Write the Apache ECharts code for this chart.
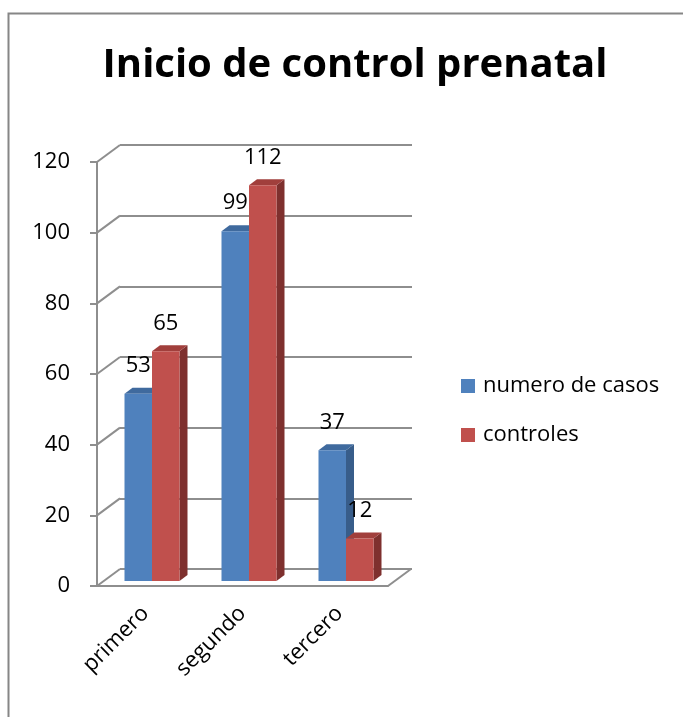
<!DOCTYPE html>
<html><head><meta charset="utf-8">
<script src="https://cdn.jsdelivr.net/npm/echarts@6/dist/echarts.min.js"></script>
<style>html,body{margin:0;padding:0;background:#fff}#c{width:683px;height:717px}</style>
</head><body><div id="c"></div>
<script>
// ---- data ----
const categories = ['primero', 'segundo', 'tercero'];
const seriesNames = ['numero de casos', 'controles'];
const casos = [53, 99, 37];
const controles = [65, 112, 12];
const yTickValues = [0, 20, 40, 60, 80, 100, 120];
const titleText = 'Inicio de control prenatal';

// ---- style constants ----
const FONT = 'Open Sans';
const GRID = '#8E8E8E';
const DX = 23, DY = -17;            // wall depth
const BAR_W = 27.5, BAR_OX = 6.5, BAR_OY = -5, BAR_DX = 8, BAR_DY = -6;
const faces = [
  {front: '#4F81BD', top: '#3F6A9E', side: '#385D8A'},
  {front: '#C0504D', top: '#A13F3C', side: '#7E302E'}
];

function barRender(si) {
  return function (params, api) {
    const i = api.value(0), v = api.value(1);
    const base = api.coord([i, 0]);
    const topP = api.coord([i, v]);
    const x0 = base[0] + BAR_OX - (si === 0 ? BAR_W : 0);
    const x1 = x0 + BAR_W;
    const yb = base[1] + BAR_OY;
    const yt = topP[1] + BAR_OY;
    const f = faces[si];
    return {type: 'group', children: [
      {type: 'polygon', shape: {points: [[x1, yt], [x1 + BAR_DX, yt + BAR_DY], [x1 + BAR_DX, yb + BAR_DY], [x1, yb]]}, style: {fill: f.side}},
      {type: 'polygon', shape: {points: [[x0, yt], [x0 + BAR_DX, yt + BAR_DY], [x1 + BAR_DX, yt + BAR_DY], [x1, yt]]}, style: {fill: f.top}},
      {type: 'rect', shape: {x: x0, y: yt, width: BAR_W, height: yb - yt}, style: {fill: f.front}},
      {type: 'text', x: (x0 + x1) / 2, y: yt - 28, style: {text: String(v), fill: '#000', font: '22px "' + FONT + '"', align: 'center', verticalAlign: 'middle'}}
    ]};
  };
}

const chart = echarts.init(document.getElementById('c'), null, {renderer: 'canvas'});
chart.setOption({
  animation: false,
  backgroundColor: '#fff',
  title: {text: titleText, left: 350, top: 41, textAlign: 'center',
    textStyle: {fontSize: 40, fontWeight: 'bold', fontFamily: FONT, color: '#000'}},
  legend: {orient: 'vertical', left: 456, top: 370, itemWidth: 14, itemHeight: 14, itemGap: 27, icon: 'rect',
    textStyle: {fontSize: 22, fontFamily: FONT, color: '#000', padding: [0, 0, 0, 3]}, data: seriesNames},
  graphic: [{type: 'rect', silent: true, z: -10, shape: {x: 8.5, y: 13.5, width: 800, height: 800},
    style: {fill: 'none', stroke: '#868686', lineWidth: 2}}],
  grid: [
    {left: 120, right: 683 - 412, top: 145, bottom: 717 - 569},
    {left: 97, right: 683 - 388, top: 162, bottom: 717 - 586}
  ],
  xAxis: [
    {gridIndex: 0, type: 'category', data: categories, show: false},
    {gridIndex: 1, type: 'category', data: categories,
      axisLine: {lineStyle: {color: GRID, width: 2}},
      axisTick: {length: 7, lineStyle: {color: GRID, width: 2}},
      axisLabel: {rotate: 45, margin: 24, fontSize: 22, fontFamily: FONT, color: '#000'}}
  ],
  yAxis: [
    {gridIndex: 0, type: 'value', min: 0, max: 120, interval: 20,
      axisLine: {show: false}, axisTick: {show: false}, axisLabel: {show: false},
      splitLine: {lineStyle: {color: GRID, width: 2}}},
    {gridIndex: 1, type: 'value', min: 0, max: 120, interval: 20,
      axisLine: {show: true, lineStyle: {color: GRID, width: 2}},
      axisTick: {show: true, length: 7, lineStyle: {color: GRID, width: 2}},
      axisLabel: {margin: 27, fontSize: 22, fontFamily: FONT, color: '#000'},
      splitLine: {show: false}}
  ],
  series: [
    {type: 'custom', name: 'walls', xAxisIndex: 1, yAxisIndex: 1, silent: true, z: 1,
      data: yTickValues.map(v => [0, v]),
      renderItem: function (params, api) {
        const cs = params.coordSys;
        const v = api.value(1);
        const y = api.coord([0, v])[1];
        const ch = [{type: 'line', shape: {x1: cs.x, y1: y, x2: cs.x + DX, y2: y + DY}, style: {stroke: GRID, lineWidth: 2}}];
        if (v === 0) ch.push({type: 'line', shape: {x1: cs.x + cs.width, y1: y, x2: cs.x + cs.width + DX, y2: y + DY}, style: {stroke: GRID, lineWidth: 2}});
        return {type: 'group', children: ch};
      }},
    {type: 'custom', name: seriesNames[0], xAxisIndex: 1, yAxisIndex: 1, z: 3,
      itemStyle: {color: faces[0].front},
      data: casos.map((v, i) => [i, v]), renderItem: barRender(0)},
    {type: 'custom', name: seriesNames[1], xAxisIndex: 1, yAxisIndex: 1, z: 4,
      itemStyle: {color: faces[1].front},
      data: controles.map((v, i) => [i, v]), renderItem: barRender(1)}
  ]
});
</script></body></html>
